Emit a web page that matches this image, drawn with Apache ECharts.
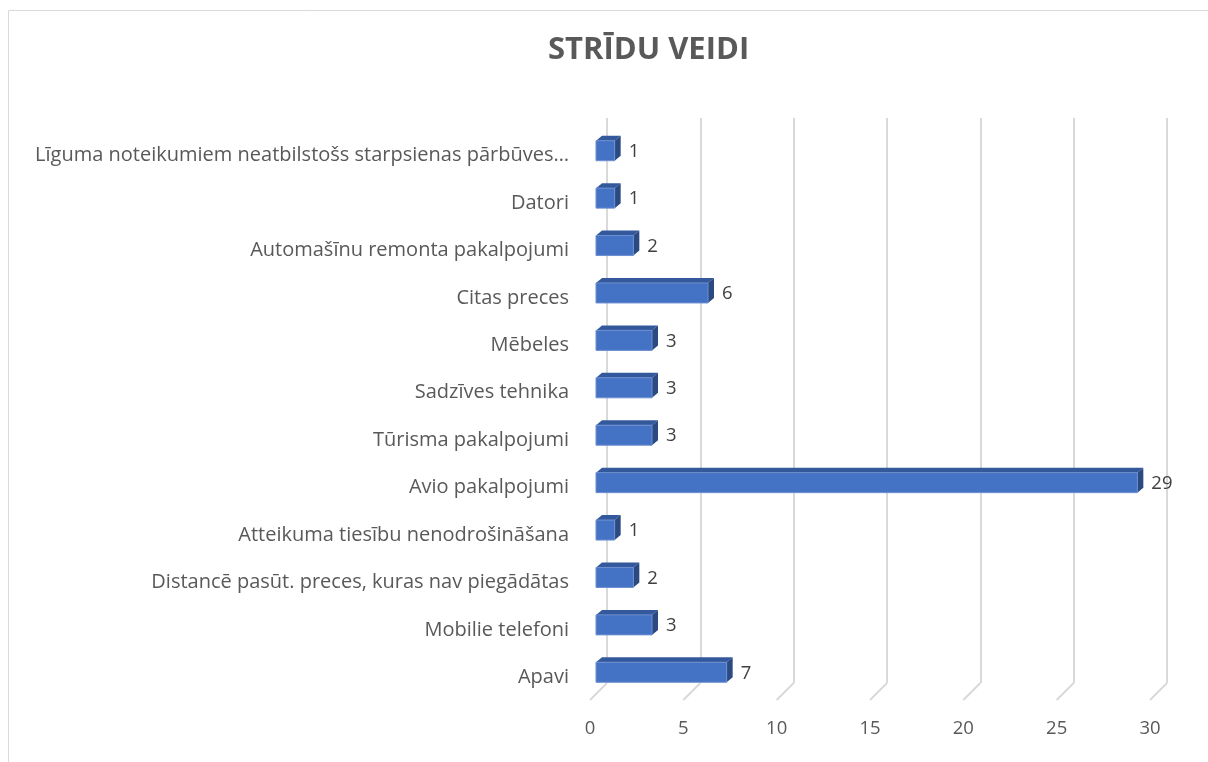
<!DOCTYPE html>
<html>
<head>
<meta charset="utf-8">
<script src="https://cdn.jsdelivr.net/npm/echarts@6/dist/echarts.min.js"></script>
<style>
  html, body { margin: 0; padding: 0; background: #fff; }
  #chart { width: 1208px; height: 762px; }
</style>
</head>
<body>
<div id="chart"></div>
<script>
// categories, bottom to top (as Excel draws them)
const categories = [
  "Apavi",
  "Mobilie telefoni",
  "Distancē pasūt. preces, kuras nav piegādātas",
  "Atteikuma tiesību nenodrošināšana",
  "Avio pakalpojumi",
  "Tūrisma pakalpojumi",
  "Sadzīves tehnika",
  "Mēbeles",
  "Citas preces",
  "Automašīnu remonta pakalpojumi",
  "Datori",
  "Līguma noteikumiem neatbilstošs starpsienas pārbūves…"
];
const values = [7, 3, 2, 1, 29, 3, 3, 3, 6, 2, 1, 1];
const xTicks = [0, 5, 10, 15, 20, 25, 30];

const FONT = "'Open Sans', 'Noto Sans', sans-serif";
const DX = 6, DY = 5;      // depth of the 3d bars
const HALF = 10;           // half height of the bar front face

const chart = echarts.init(document.getElementById("chart"));

// 3d bar: front face, top face, side face, value label
function renderBar(params, api) {
  const v = api.value(0);
  const i = api.value(1);
  const p0 = api.coord([0, i]);
  const p1 = api.coord([v, i]);
  const x0 = p0[0], x1 = p1[0], yc = p1[1];
  const top = yc - HALF, bot = yc + HALF;
  return {
    type: "group",
    children: [
      {
        type: "polygon",
        shape: { points: [[x0, top], [x0 + DX, top - DY], [x1 + DX, top - DY], [x1, top]] },
        style: { fill: "#34589c" }
      },
      {
        type: "polygon",
        shape: { points: [[x1, top], [x1 + DX, top - DY], [x1 + DX, bot - DY], [x1, bot]] },
        style: { fill: "#2b4a82" }
      },
      {
        type: "rect",
        shape: { x: x0, y: top, width: x1 - x0, height: bot - top },
        style: { fill: "#4472c4", stroke: "#6d8fd0", lineWidth: 1 }
      },
      {
        type: "text",
        style: {
          x: x1 + DX + 8,
          y: yc + 1,
          text: String(v),
          fill: "#404040",
          font: "18.5px " + FONT,
          verticalAlign: "middle",
          align: "left"
        }
      }
    ]
  };
}

// slanted floor lines joining the back wall to the front edge
function renderFloor(params, api) {
  const x = api.coord([api.value(0), 0])[0];
  const bottom = params.coordSys.y + params.coordSys.height;
  return {
    type: "line",
    shape: { x1: x + 11, y1: bottom - 13, x2: x - 6, y2: bottom + 4 },
    style: { stroke: "#d9d9d9", lineWidth: 2 }
  };
}

const option = {
  animation: false,
  title: {
    text: "STRĪDU VEIDI",
    left: 543,
    top: 30,
    textStyle: { fontFamily: FONT, fontSize: 31, fontWeight: "bold", color: "#595959" }
  },
  graphic: [
    {
      type: "rect",
      silent: true,
      z: -10,
      shape: { x: 8.5, y: 10.5, width: 1300, height: 800 },
      style: { fill: "none", stroke: "#d9d9d9", lineWidth: 1 }
    }
  ],
  grid: [
    { left: 596, top: 127, width: 560, height: 569 },   // front plane
    { left: 607, top: 118, width: 560, height: 565 },   // back wall
    { left: 596, top: 132, width: 560, height: 569 }    // category labels
  ],
  xAxis: [
    {
      gridIndex: 0,
      type: "value",
      min: 0,
      max: 30,
      interval: 5,
      splitLine: { show: false },
      axisLine: { show: false },
      axisTick: { show: false },
      axisLabel: {
        margin: 23,
        padding: [0, 12, 0, 0],
        fontFamily: FONT,
        fontSize: 18.5,
        color: "#595959"
      }
    },
    {
      gridIndex: 1,
      type: "value",
      min: 0,
      max: 30,
      interval: 5,
      axisLine: { show: false },
      axisTick: { show: false },
      axisLabel: { show: false },
      splitLine: { show: true, lineStyle: { color: "#d9d9d9", width: 2 } }
    },
    {
      gridIndex: 2,
      type: "value",
      show: false,
      splitLine: { show: false }
    }
  ],
  yAxis: [
    {
      gridIndex: 0,
      type: "category",
      data: categories,
      axisLine: { show: false },
      axisTick: { show: false },
      axisLabel: { show: false }
    },
    {
      gridIndex: 1,
      type: "value",
      show: false,
      splitLine: { show: false }
    },
    {
      gridIndex: 2,
      type: "category",
      data: categories,
      axisLine: { show: false },
      axisTick: { show: false },
      axisLabel: {
        margin: 27,
        fontFamily: FONT,
        fontSize: 20,
        color: "#595959"
      }
    }
  ],
  series: [
    {
      name: "floor",
      type: "custom",
      xAxisIndex: 0,
      yAxisIndex: 0,
      renderItem: renderFloor,
      data: xTicks.map(t => [t, 0]),
      silent: true,
      z: 1
    },
    {
      name: "Strīdi",
      type: "custom",
      xAxisIndex: 0,
      yAxisIndex: 0,
      renderItem: renderBar,
      encode: { x: 0, y: 1 },
      data: values.map((v, i) => [v, i]),
      z: 5
    }
  ]
};

chart.setOption(option);
</script>
</body>
</html>
